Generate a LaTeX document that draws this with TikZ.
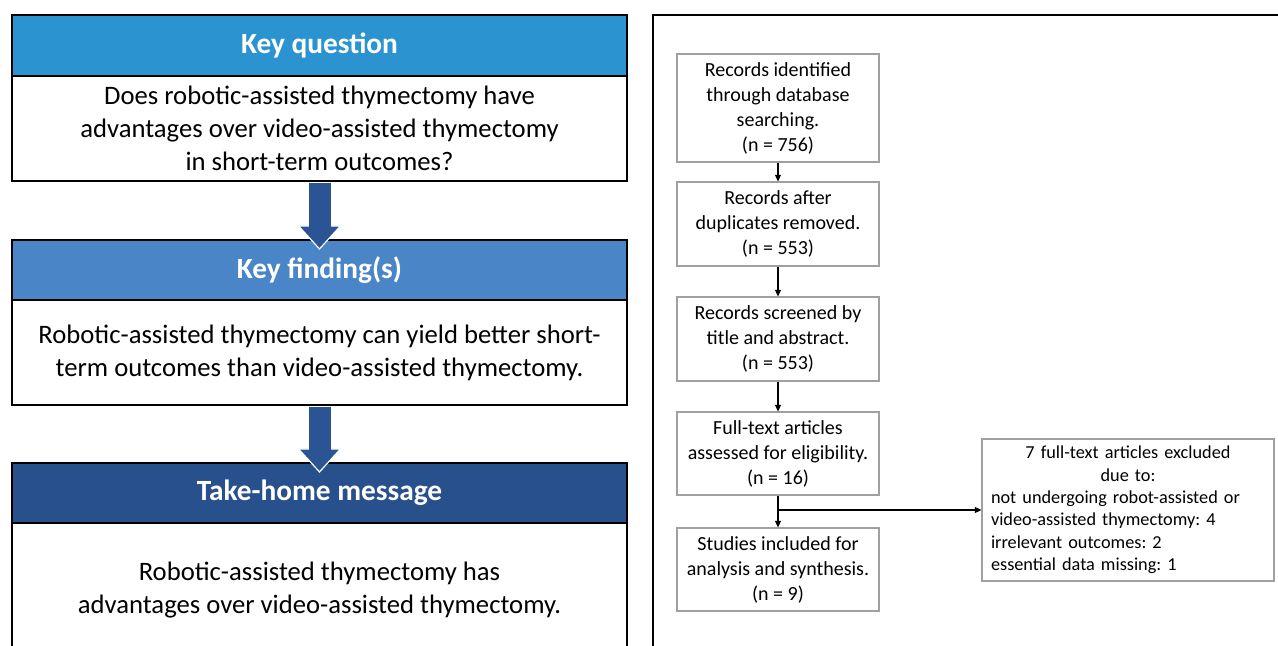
\documentclass[tikz,border=0pt]{standalone}
\usepackage{fontspec}
\setmainfont{Carlito}
\frenchspacing
\usetikzlibrary{arrows.meta,calc}
\definecolor{hq}{RGB}{43,148,208}
\definecolor{hf}{RGB}{74,133,199}
\definecolor{ht}{RGB}{40,80,141}
\definecolor{ab}{RGB}{42,84,148}
\definecolor{fb}{RGB}{160,160,160}
\newcommand\bigdownarrow[2]{%
  \coordinate (s) at (#1.south);
  \coordinate (t) at ($(#2.north)+(0,10)$);
  \filldraw[ab, draw=white, line width=0.9pt] ($(t)+(-21,-23)$) -- (t) -- ($(t)+(21,-23)$) -- cycle;
  \fill[ab] ($(s)+(-11,1)$) rectangle ($(t)+(11,-22)$);
}
\begin{document}
\begin{tikzpicture}[x=0.75pt,y=-0.75pt,
  hdr/.style={draw=black, line width=1.6pt, fill=#1, minimum width=615*0.75pt, text=white,
    font=\fontsize{22pt}{26pt}\selectfont\bfseries, inner sep=0pt},
  body/.style={draw=black, line width=1.6pt, fill=white, minimum width=615*0.75pt, align=center,
    font=\fontsize{20pt}{24.75pt}\selectfont, inner sep=0pt},
  flow/.style={draw=fb, line width=0.8pt, minimum width=202*0.75pt, align=center,
    font=\fontsize{15pt}{18.75pt}\selectfont, inner sep=0pt},
  thinarr/.style={draw=black, line width=0.9pt, -{Triangle[length=5pt,width=4.5pt]}}
]
\clip (0,0) rectangle (1278,646);
\fill[white] (0,0) rectangle (1278,646);

% left panel
\node[hdr=hq, minimum height=61*0.75pt] (kqh) at (319.5,45.5) {Key question};
\node[body, minimum height=105*0.75pt] (kqb) at (319.5,128.5)
  {Does robotic-assisted thymectomy have\\advantages over video-assisted thymectomy\\in short-term outcomes?};
\node[hdr=hf, minimum height=60*0.75pt] (kfh) at (319.5,270) {Key finding(s)};
\node[body, minimum height=105*0.75pt] (kfb) at (319.5,352.5)
  {Robotic-assisted thymectomy can yield better short-\\term outcomes than video-assisted thymectomy.};
\node[hdr=ht, minimum height=60*0.75pt] (thh) at (319.5,493) {Take-home message};
\node[body, minimum height=134*0.75pt] (thb) at (319.5,590)
  {Robotic-assisted thymectomy has\\advantages over video-assisted thymectomy.};

\bigdownarrow{kqb}{kfh}
\bigdownarrow{kfb}{thh}

% right panel frame
\draw[line width=1.8pt] (653,700) -- (653,15) -- (1300,15);

% flow chart
\node[flow, minimum height=108*0.75pt] (b1) at (778,108)
  {Records identified\\through database\\searching.\\(n = 756)};
\node[flow, minimum height=84*0.75pt] (b2) at (778,224)
  {Records after\\duplicates removed.\\(n = 553)};
\node[flow, minimum height=84*0.75pt] (b3) at (778,339)
  {Records screened by\\title and abstract.\\(n = 553)};
\node[flow, minimum height=83*0.75pt] (b4) at (778,453.5)
  {Full-text articles\\assessed for eligibility.\\(n = 16)};
\node[flow, minimum height=83*0.75pt] (b5) at (778,569.5)
  {Studies included for\\analysis and synthesis.\\(n = 9)};
\node[draw=fb, line width=0.8pt, minimum width=292*0.75pt, minimum height=142*0.75pt,
  text width=274*0.75pt, inner sep=0pt, font=\fontsize{13.7pt}{16.8pt}\selectfont] (ex) at (1128,510)
  {\centering 7 full-text articles excluded\\due to:\par
   \raggedright not undergoing robot-assisted or\\video-assisted thymectomy: 4\\irrelevant outcomes: 2\\essential data missing: 1\par};

\draw[thinarr] (b1) -- (b2);
\draw[thinarr] (b2) -- (b3);
\draw[thinarr] (b3) -- (b4);
\draw[thinarr] (b4) -- (b5);
\coordinate (br) at (b4.south |- ex.west);
\draw[thinarr] (br) -- (ex);
\end{tikzpicture}
\end{document}
